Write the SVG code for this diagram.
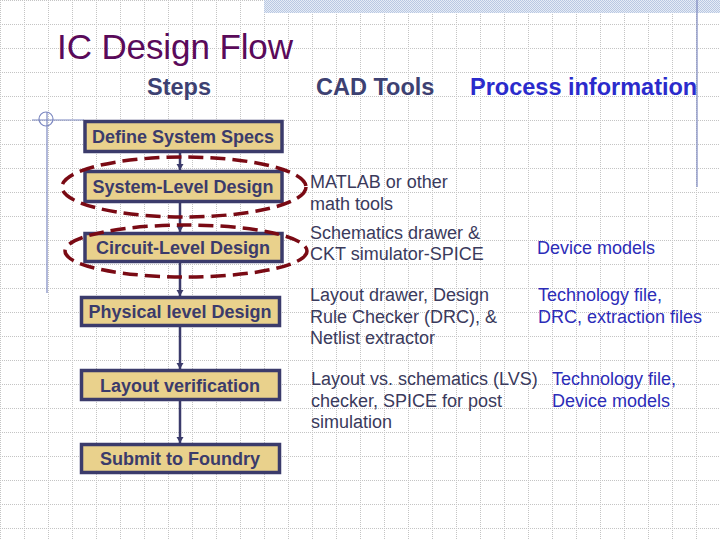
<svg xmlns="http://www.w3.org/2000/svg" width="720" height="540" viewBox="0 0 720 540">
  <defs>
    <pattern id="grid" patternUnits="userSpaceOnUse" width="24" height="24">
      <path d="M0 0.5 H24 M0.5 0 V24" stroke="#c4c4c4" stroke-width="1" stroke-dasharray="1 1" fill="none"/>
    </pattern>
    <pattern id="check" patternUnits="userSpaceOnUse" width="2" height="2">
      <rect width="2" height="2" fill="#e6ecf6"/>
      <rect width="1" height="1" fill="#b9c8e2"/>
      <rect x="1" y="1" width="1" height="1" fill="#b9c8e2"/>
    </pattern>
    <marker id="arr" markerUnits="userSpaceOnUse" markerWidth="8" markerHeight="8" refX="6" refY="3.5" orient="auto">
      <path d="M0 0 L6 3.5 L0 7 Z" fill="#3b3b6b"/>
    </marker>
    <style>
      .box { fill: #e9d18c; stroke: #3b3b6b; stroke-width: 3.5; }
      .lbl { font-family: "Liberation Sans", Arial, sans-serif; font-weight: bold; font-size: 18px; fill: #3b3b6b; text-anchor: middle; }
      .hdr { font-family: "Liberation Sans", Arial, sans-serif; font-weight: bold; font-size: 23.5px; fill: #3d4172; }
      .tool { font-family: "Liberation Sans", Arial, sans-serif; font-size: 18px; fill: #3a3a5c; }
      .proc { font-family: "Liberation Sans", Arial, sans-serif; font-size: 18px; fill: #2c2cb8; }
      .conn { stroke: #3b3b6b; stroke-width: 2.5; fill: none; }
      .hl { fill: none; stroke: #7a0a14; stroke-width: 3.5; stroke-dasharray: 15 7; }
      .deco { stroke: #7c88c0; stroke-width: 1.2; fill: none; }
    </style>
  </defs>

  <rect width="720" height="540" fill="#ffffff"/>
  <rect width="720" height="540" fill="url(#grid)"/>
  <rect x="264" y="0" width="456" height="13" fill="url(#check)"/>

  <g id="decoration">
    <line class="deco" x1="697" y1="0" x2="697" y2="187"/>
    <line class="deco" x1="32" y1="120" x2="84" y2="120"/>
    <line class="deco" x1="47" y1="112" x2="47" y2="293"/>
    <circle class="deco" cx="46" cy="119" r="7"/>
  </g>

  <text x="57" y="59" font-family="'Liberation Sans', Arial, sans-serif" font-size="35" fill="#5a0a5a" textLength="236">IC Design Flow</text>

  <g id="headers">
    <text class="hdr" x="147" y="95">Steps</text>
    <text class="hdr" x="316" y="95">CAD Tools</text>
    <text class="hdr" x="470" y="95" style="fill:#2b2bcc">Process information</text>
  </g>

  <g id="connectors">
    <line class="conn" x1="180" y1="153" x2="180" y2="170" marker-end="url(#arr)"/>
    <line class="conn" x1="180" y1="203" x2="180" y2="232" marker-end="url(#arr)"/>
    <line class="conn" x1="180" y1="263" x2="180" y2="296" marker-end="url(#arr)"/>
    <line class="conn" x1="180" y1="327" x2="180" y2="369" marker-end="url(#arr)"/>
    <line class="conn" x1="180" y1="401" x2="180" y2="443" marker-end="url(#arr)"/>
  </g>

  <g id="define-specs">
    <rect class="box" x="85" y="121.5" width="197" height="30"/>
    <text class="lbl" x="183" y="143">Define System Specs</text>
  </g>
  <g id="system-level">
    <rect class="box" x="85" y="171.5" width="197" height="30"/>
    <text class="lbl" x="183" y="193">System-Level Design</text>
  </g>
  <g id="circuit-level">
    <rect class="box" x="85" y="233.5" width="197" height="28"/>
    <text class="lbl" x="183" y="254">Circuit-Level Design</text>
  </g>
  <g id="physical-level">
    <rect class="box" x="81.5" y="297.5" width="198" height="28"/>
    <text class="lbl" x="180" y="318">Physical level Design</text>
  </g>
  <g id="layout-verification">
    <rect class="box" x="81.5" y="370.5" width="198" height="29"/>
    <text class="lbl" x="180" y="391.5">Layout verification</text>
  </g>
  <g id="submit-foundry">
    <rect class="box" x="81.5" y="444.5" width="198" height="28"/>
    <text class="lbl" x="180" y="465">Submit to Foundry</text>
  </g>

  <g id="highlights">
    <ellipse class="hl" cx="184" cy="187" rx="122" ry="30"/>
    <ellipse class="hl" cx="186" cy="251" rx="121" ry="26"/>
  </g>

  <g id="cad-tools">
    <text class="tool" x="310" y="188">MATLAB or other</text>
    <text class="tool" x="310" y="209.5">math tools</text>
    <text class="tool" x="310" y="238.5">Schematics drawer &amp;</text>
    <text class="tool" x="310" y="260">CKT simulator-SPICE</text>
    <text class="tool" x="310" y="301">Layout drawer, Design</text>
    <text class="tool" x="310" y="322.5">Rule Checker (DRC), &amp;</text>
    <text class="tool" x="310" y="344">Netlist extractor</text>
    <text class="tool" x="311" y="385">Layout vs. schematics (LVS)</text>
    <text class="tool" x="311" y="406.5">checker, SPICE for post</text>
    <text class="tool" x="311" y="428">simulation</text>
  </g>

  <g id="process-info">
    <text class="proc" x="537" y="253.5">Device models</text>
    <text class="proc" x="538" y="301">Technology file,</text>
    <text class="proc" x="538" y="322.5">DRC, extraction files</text>
    <text class="proc" x="552" y="385">Technology file,</text>
    <text class="proc" x="552" y="406.5">Device models</text>
  </g>
</svg>
